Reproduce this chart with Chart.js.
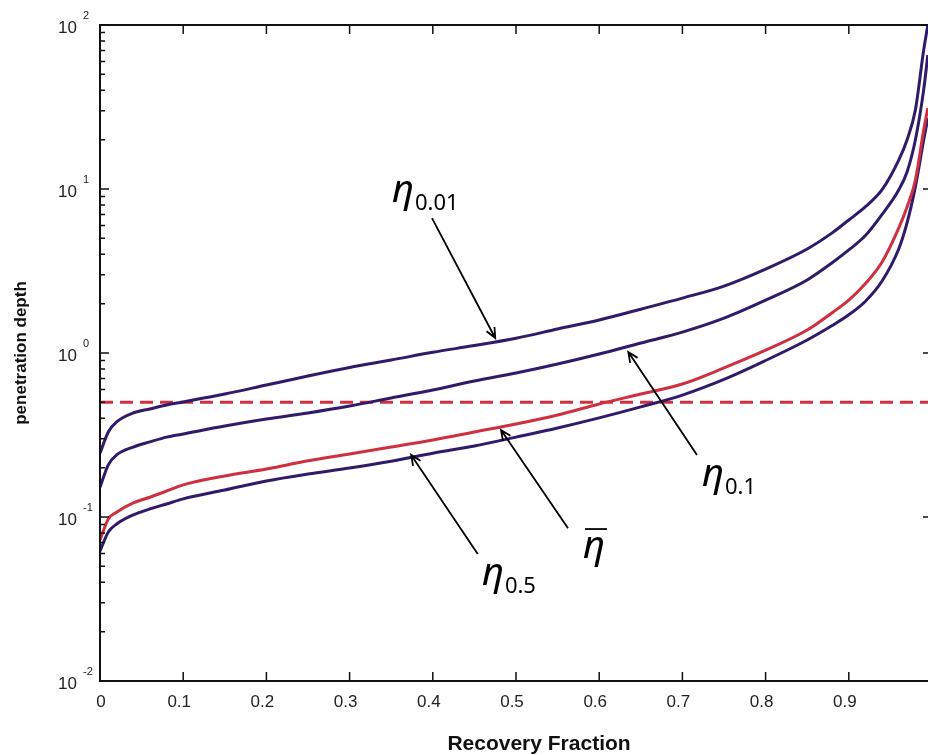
<!DOCTYPE html>
<html>
<head>
<meta charset="utf-8">
<title>Penetration depth vs recovery fraction</title>
<script src="https://cdn.jsdelivr.net/npm/chart.js@4.4.1/dist/chart.umd.min.js"></script>
<style>
  html, body { margin: 0; padding: 0; background: #fff; overflow: hidden; }
  canvas { display: block; }
</style>
</head>
<body>
<canvas id="depthChart" width="940" height="755"></canvas>
<script>
// recovery fraction samples shared by every curve
const recovery = [0, 0.01, 0.02, 0.04, 0.06, 0.08, 0.1, 0.15, 0.2, 0.25, 0.3, 0.35, 0.4, 0.45, 0.5,
  0.55, 0.6, 0.65, 0.7, 0.75, 0.8, 0.85, 0.88, 0.9, 0.92, 0.94, 0.96, 0.97, 0.98, 0.99, 0.995];

// penetration depth for each quantile
const eta001 = [0.245, 0.33, 0.38, 0.431, 0.456, 0.482, 0.503, 0.562, 0.638, 0.724, 0.816, 0.906, 1.01, 1.11, 1.23,
  1.40, 1.59, 1.85, 2.16, 2.56, 3.25, 4.31, 5.4, 6.47, 7.8, 9.9, 15.0, 19.9, 30.3, 70.4, 100];
const eta01 = [0.152, 0.208, 0.239, 0.267, 0.287, 0.307, 0.321, 0.359, 0.396, 0.431, 0.475, 0.532, 0.595, 0.675, 0.755,
  0.857, 0.986, 1.15, 1.34, 1.63, 2.10, 2.79, 3.55, 4.25, 5.2, 7.0, 9.86, 12.7, 19.9, 40.2, 65.6];
const etaMean = [0.0724, 0.0973, 0.107, 0.122, 0.132, 0.144, 0.157, 0.178, 0.196, 0.22, 0.242, 0.267, 0.295, 0.33, 0.369,
  0.419, 0.489, 0.562, 0.647, 0.811, 1.04, 1.38, 1.76, 2.10, 2.65, 3.59, 5.78, 7.77, 11.3, 22.9, 31.2];
const eta05 = [0.062, 0.081, 0.0906, 0.103, 0.112, 0.12, 0.129, 0.146, 0.166, 0.183, 0.199, 0.219, 0.245, 0.271, 0.307,
  0.349, 0.402, 0.469, 0.554, 0.69, 0.9, 1.2, 1.47, 1.71, 2.07, 2.75, 4.31, 6.21, 10.3, 19.9, 27.1];

// reference depth level
const refRange = [0, 1];
const refDepth = [0.5, 0.5];

// axis ticks
const xTicks = [0, 0.1, 0.2, 0.3, 0.4, 0.5, 0.6, 0.7, 0.8, 0.9];
const xTickLabels = ['0', '0.1', '0.2', '0.3', '0.4', '0.5', '0.6', '0.7', '0.8', '0.9'];
const yDecades = [2, 1, 0, -1, -2];

// curve labels: [subscript, label x, label depth, arrow tail x, tail depth, arrow tip x, tip depth]
const curveLabels = [
  ['0.01', 0.351, 8.34, 0.399, 6.65, 0.475, 1.235],
  ['0.1', 0.7236, 0.1545, 0.7175, 0.239, 0.635, 1.014],
  ['0.5', 0.459, 0.0385, 0.454, 0.0594, 0.374, 0.239],
  ['bar', 0.5805, 0.0562, 0.5625, 0.0855, 0.482, 0.339]
];

const PURPLE = '#2f1b69';
const RED = '#cf2f3f';

const pts = (xs, ys) => xs.map((x, i) => ({ x, y: ys[i] }));

function arrow(ctx, x1, y1, x2, y2) {
  const a = Math.atan2(y2 - y1, x2 - x1);
  const h = 11, w = 0.42;
  ctx.beginPath();
  ctx.moveTo(x1, y1);
  ctx.lineTo(x2, y2);
  ctx.moveTo(x2 - h * Math.cos(a - w), y2 - h * Math.sin(a - w));
  ctx.lineTo(x2, y2);
  ctx.lineTo(x2 - h * Math.cos(a + w), y2 - h * Math.sin(a + w));
  ctx.stroke();
}

// frame, inward ticks, labels and curve annotations
const decorations = {
  id: 'decorations',
  afterDraw(chart) {
    const { ctx, chartArea: ca, scales: { x, y } } = chart;
    ctx.save();
    ctx.strokeStyle = '#111';
    ctx.lineWidth = 2;
    ctx.strokeRect(ca.left, ca.top, ca.right - ca.left, ca.bottom - ca.top);

    ctx.lineWidth = 1.5;
    ctx.beginPath();
    yDecades.forEach(d => {
      const py = y.getPixelForValue(Math.pow(10, d));
      ctx.moveTo(ca.left, py); ctx.lineTo(ca.left + 9, py);
      ctx.moveTo(ca.right, py); ctx.lineTo(ca.right - 9, py);
      if (d > -2) {
        for (let m = 2; m <= 9; m++) {
          const pm = y.getPixelForValue(m * Math.pow(10, d - 1));
          ctx.moveTo(ca.left, pm); ctx.lineTo(ca.left + 5, pm);
        }
      }
    });
    xTicks.forEach(v => {
      if (v === 0) return;
      const px = x.getPixelForValue(v);
      ctx.moveTo(px, ca.bottom); ctx.lineTo(px, ca.bottom - 9);
      ctx.moveTo(px, ca.top); ctx.lineTo(px, ca.top + 9);
    });
    ctx.stroke();

    // tick labels
    ctx.fillStyle = '#222';
    ctx.textBaseline = 'alphabetic';
    ctx.font = "17px 'Liberation Sans', Arial, sans-serif";
    ctx.textAlign = 'center';
    xTicks.forEach((v, i) => {
      const px = x.getPixelForValue(v);
      const lbl = xTickLabels[i];
      ctx.fillText(lbl, lbl.length > 1 ? px - 4 : px + 1, ca.bottom + 26);
    });
    yDecades.forEach(d => {
      const py = y.getPixelForValue(Math.pow(10, d));
      ctx.font = "17px 'Liberation Sans', Arial, sans-serif";
      ctx.textAlign = 'right';
      ctx.fillText('10', ca.left - 23, py + 8);
      ctx.font = "11px 'Liberation Sans', Arial, sans-serif";
      ctx.textAlign = 'left';
      ctx.fillText(String(d), ca.left - 17, py - 6);
    });

    // axis titles
    ctx.fillStyle = '#111';
    ctx.font = "bold 21px 'Liberation Sans', Arial, sans-serif";
    ctx.textAlign = 'center';
    ctx.fillText('Recovery Fraction', 539, 750);
    ctx.save();
    ctx.translate(26, (ca.top + ca.bottom) / 2);
    ctx.rotate(-Math.PI / 2);
    ctx.font = "bold 17px 'Liberation Sans', Arial, sans-serif";
    ctx.fillText('penetration depth', 0, 0);
    ctx.restore();

    // curve annotations
    ctx.fillStyle = '#000';
    ctx.strokeStyle = '#000';
    ctx.lineWidth = 1.8;
    curveLabels.forEach(([sub, lx, ly, tx, ty, hx, hy]) => {
      const px = x.getPixelForValue(lx), py = y.getPixelForValue(ly);
      ctx.textAlign = 'left';
      ctx.font = "italic 38px 'Noto Sans', 'DejaVu Sans', sans-serif";
      ctx.fillText('\u03b7', px, py);
      const w = ctx.measureText('\u03b7').width;
      if (sub === 'bar') {
        ctx.beginPath();
        ctx.moveTo(px + 2, py - 29);
        ctx.lineTo(px + w + 2, py - 29);
        ctx.stroke();
      } else {
        ctx.font = "22px 'Noto Sans', 'Open Sans', sans-serif";
        ctx.fillText(sub, px + w + 1, py + 8);
      }
      arrow(ctx, x.getPixelForValue(tx), y.getPixelForValue(ty), x.getPixelForValue(hx), y.getPixelForValue(hy));
    });
    ctx.restore();
  }
};

const lineStyle = color => ({
  borderColor: color, borderWidth: 3, pointRadius: 0, fill: false,
  cubicInterpolationMode: 'monotone'
});

new Chart(document.getElementById('depthChart').getContext('2d'), {
  type: 'line',
  data: {
    datasets: [
      { label: 'eta 0.01', data: pts(recovery, eta001), ...lineStyle(PURPLE) },
      { label: 'eta 0.1', data: pts(recovery, eta01), ...lineStyle(PURPLE) },
      { label: 'eta mean', data: pts(recovery, etaMean), ...lineStyle(RED) },
      { label: 'eta 0.5', data: pts(recovery, eta05), ...lineStyle(PURPLE) },
      { label: 'reference', data: pts(refRange, refDepth), borderColor: RED, borderWidth: 3,
        borderDash: [13, 7], pointRadius: 0, fill: false }
    ]
  },
  options: {
    responsive: false,
    animation: false,
    devicePixelRatio: 1,
    layout: { padding: { left: 100, top: 25, right: 8, bottom: 74 } },
    plugins: { legend: { display: false }, tooltip: { enabled: false } },
    scales: {
      x: { type: 'linear', min: 0, max: 1, display: false },
      y: { type: 'logarithmic', min: 0.01, max: 100, display: false }
    }
  },
  plugins: [decorations]
});
</script>
</body>
</html>
